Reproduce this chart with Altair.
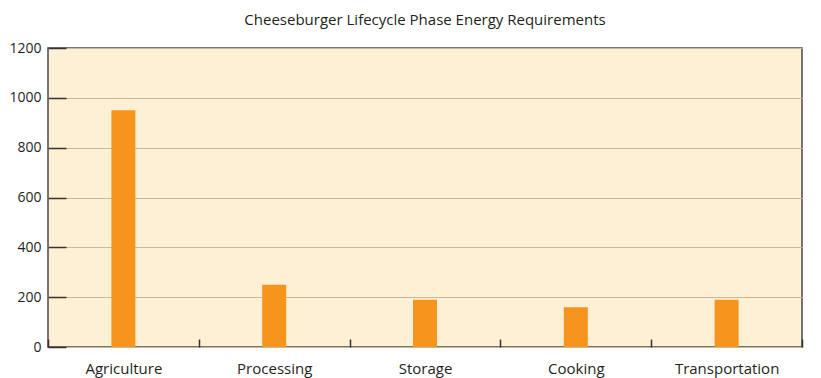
import altair as alt
import pandas as pd

phases = ["Agriculture", "Processing", "Storage", "Cooking", "Transportation"]
energy = [950, 250, 190, 160, 190]
y_ticks = [0, 200, 400, 600, 800, 1000, 1200]
title_text = "Cheeseburger Lifecycle Phase Energy Requirements"

df = pd.DataFrame({"phase": phases, "energy": energy})

FONT = "Open Sans"
TXT = "#231f20"

chart = alt.Chart(df).mark_bar(size=24, color="#F7941D").encode(
    x=alt.X(
        "phase:N",
        sort=phases,
        scale=alt.Scale(paddingInner=0, paddingOuter=0),
        axis=alt.Axis(
            title=None,
            labelAngle=0,
            tickBand="extent",
            tickSize=8,
            tickColor="#333333",
            tickWidth=1.5,
            offset=-8,
            domain=False,
            labelPadding=14,
            labelFontSize=15,
            labelFont=FONT,
            labelColor=TXT,
            grid=False,
        ),
    ),
    y=alt.Y(
        "energy:Q",
        scale=alt.Scale(domain=[0, 1200], nice=False),
        axis=alt.Axis(
            title=None,
            values=y_ticks,
            format="d",
            tickSize=18,
            tickColor="#333333",
            tickWidth=1.5,
            offset=-18,
            domain=False,
            labelPadding=7,
            labelFontSize=14,
            labelFont=FONT,
            labelColor=TXT,
            grid=True,
            gridColor="#C9B99B",
            gridWidth=1,
        ),
    ),
).properties(
    width=754,
    height=299,
    background="white",
    title=alt.TitleParams(
        text=title_text,
        font=FONT,
        fontSize=15,
        fontWeight="normal",
        color=TXT,
        anchor="middle",
        offset=13,
    ),
    autosize=alt.AutoSizeParams(type="none"),
    padding={"left": 40, "top": 40, "right": 11, "bottom": 31},
).configure_view(
    fill="#FEF0D5",
    stroke="#4a4a4a",
    strokeWidth=1.5,
)

chart.save("out.html", embed_options={"renderer": "svg", "actions": False})
